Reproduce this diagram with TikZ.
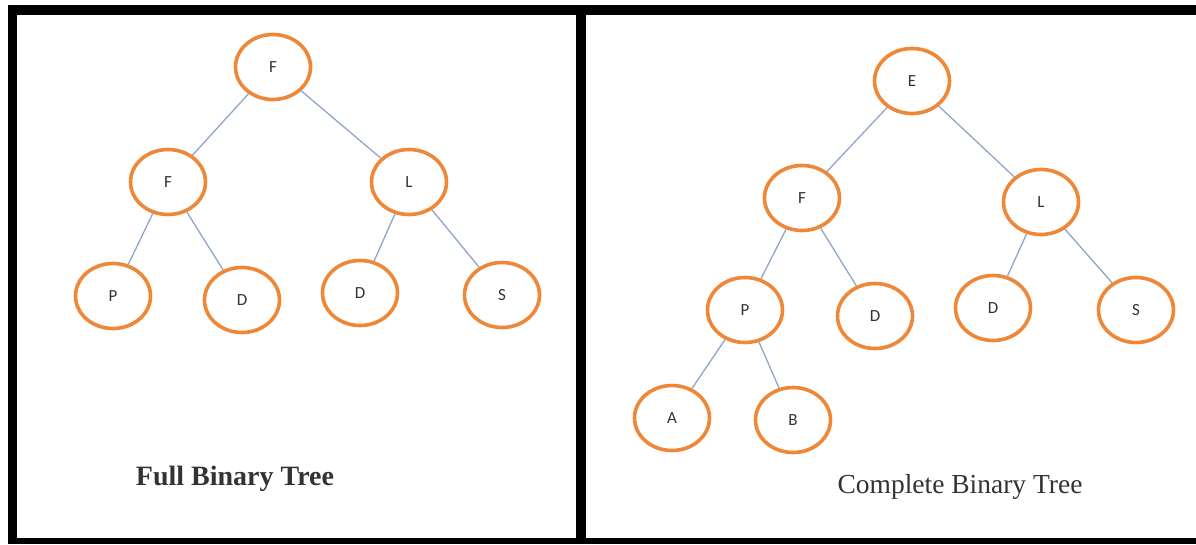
\documentclass[tikz,border=0pt]{standalone}
\usepackage{fontspec}
\setmainfont{Liberation Serif}
\newfontfamily\nodefont{Carlito}
\usetikzlibrary{shapes.geometric}
\definecolor{ringorange}{HTML}{EE8838}
\definecolor{edgeblue}{HTML}{8FA6C9}
\begin{document}
\begin{tikzpicture}[x=1pt,y=-1pt,
  treenode/.style={ellipse, draw=ringorange, line width=3.6pt, fill=white,
    minimum width=75pt, minimum height=65pt, inner sep=0pt,
    font=\nodefont\fontsize{17}{20}\selectfont, text=black!80},
  edge/.style={draw=edgeblue, line width=1.3pt},
  frame/.style={fill=black, draw=none},
  caption/.style={inner sep=0pt, anchor=base, text=black!80}]
\useasboundingbox (0,0) rectangle (1196,544);
\fill[white] (0,0) rectangle (1196,544);

% panel frame
\fill[frame] (8,5) rectangle (1196,15);
\fill[frame] (8,5) rectangle (17,544);
\fill[frame] (576,10) rectangle (586,544);
\fill[frame] (8,538) rectangle (1196,544);

% full binary tree
\node[treenode] (fa) at (273,67) {F};
\node[treenode] (fb) at (168,182) {F};
\node[treenode] (fc) at (409,182) {L};
\node[treenode] (fd) at (113,296) {P};
\node[treenode] (fe) at (242,300) {D};
\node[treenode] (ff) at (360,293) {D};
\node[treenode] (fg) at (502,295) {S};

% complete binary tree
\node[treenode] (ca) at (912,81) {E};
\node[treenode] (cb) at (802,198) {F};
\node[treenode] (cc) at (1041,202) {L};
\node[treenode] (cd) at (745,310) {P};
\node[treenode] (ce) at (875,316) {D};
\node[treenode] (cf) at (993,308) {D};
\node[treenode] (cg) at (1136,310) {S};
\node[treenode] (ch) at (672,418) {A};
\node[treenode] (ci) at (793,420) {B};

% connectors
\draw[edge] (fa) -- (fb);
\draw[edge] (fa) -- (fc);
\draw[edge] (fb) -- (fd);
\draw[edge] (fb) -- (fe);
\draw[edge] (fc) -- (ff);
\draw[edge] (fc) -- (fg);
\draw[edge] (ca) -- (cb);
\draw[edge] (ca) -- (cc);
\draw[edge] (cb) -- (cd);
\draw[edge] (cb) -- (ce);
\draw[edge] (cc) -- (cf);
\draw[edge] (cc) -- (cg);
\draw[edge] (cd) -- (ch);
\draw[edge] (cd) -- (ci);

% captions
\node[caption, font=\bfseries\fontsize{28}{32}\selectfont] (capfull) at (235,485) {Full Binary Tree};
\node[caption, font=\fontsize{27.5}{32}\selectfont] (capcomp) at (960,493) {Complete Binary Tree};
\end{tikzpicture}
\end{document}
